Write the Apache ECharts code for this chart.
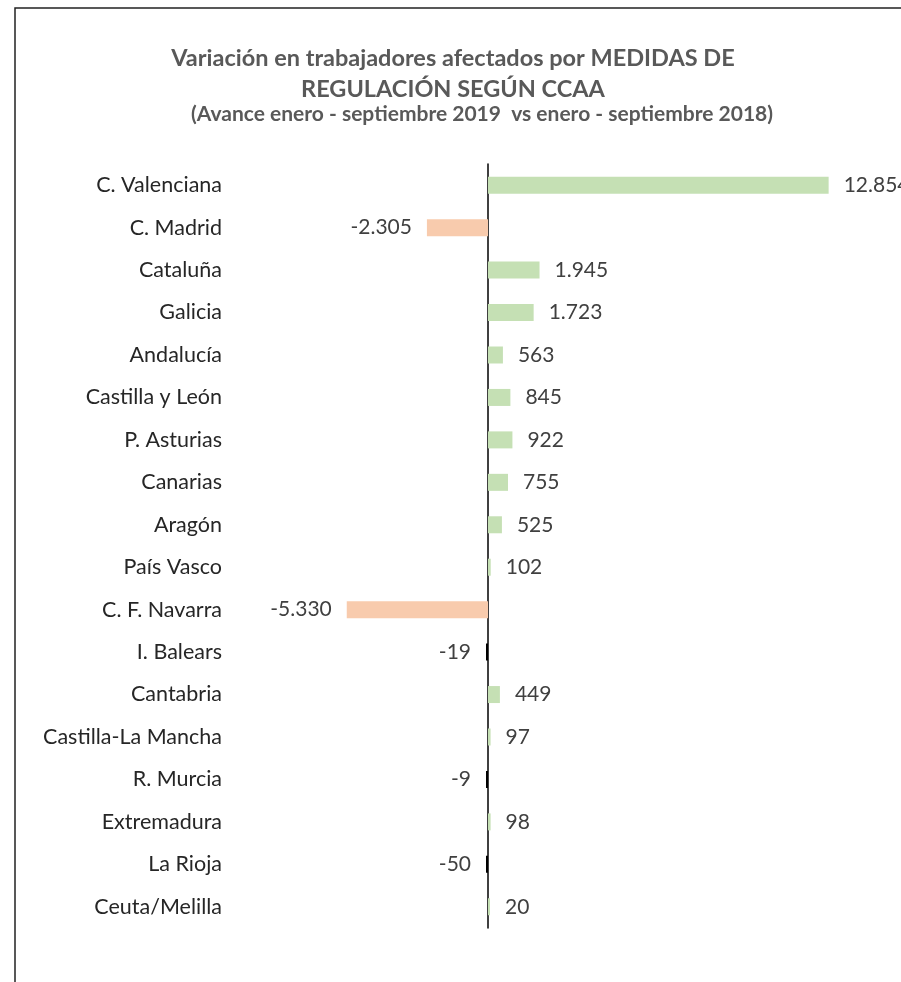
<!DOCTYPE html>
<html>
<head>
<meta charset="utf-8">
<style>
  html, body { margin: 0; padding: 0; background: #fff; }
  #chart { width: 901px; height: 982px; }
</style>
<script src="https://cdn.jsdelivr.net/npm/echarts@6/dist/echarts.min.js"></script>
</head>
<body>
<div id="chart"></div>
<script>
const regions = [
  'C. Valenciana', 'C. Madrid', 'Cataluña', 'Galicia', 'Andalucía',
  'Castilla y León', 'P. Asturias', 'Canarias', 'Aragón', 'País Vasco',
  'C. F. Navarra', 'I. Balears', 'Cantabria', 'Castilla-La Mancha',
  'R. Murcia', 'Extremadura', 'La Rioja', 'Ceuta/Melilla'
];
const variacion = [
  12854, -2305, 1945, 1723, 563,
  845, 922, 755, 525, 102,
  -5330, -19, 449, 97,
  -9, 98, -50, 20
];

const fmt = v => {
  const s = Math.abs(v).toString().replace(/\B(?=(\d{3})+(?!\d))/g, '.');
  return (v < 0 ? '-' : '') + s;
};

const chart = echarts.init(document.getElementById('chart'));

chart.setOption({
  animation: false,
  textStyle: { fontFamily: 'Lato' },
  graphic: [{
    type: 'rect',
    shape: { x: 15, y: 8, width: 920, height: 1000 },
    style: { fill: 'none', stroke: '#222', lineWidth: 1.5 }
  }],
  title: [{
    text: 'Variación en trabajadores afectados por MEDIDAS DE\nREGULACIÓN SEGÚN CCAA',
    left: 448, top: 38, textAlign: 'center',
    textStyle: { fontSize: 23.5, fontWeight: 'bold', color: '#595959', lineHeight: 31 }
  }, {
    text: '(Avance enero - septiembre 2019  vs enero - septiembre 2018)',
    left: 477, top: 99, textAlign: 'center',
    textStyle: { fontSize: 21, fontWeight: 'bold', color: '#595959' }
  }],
  grid: {
    left: 329, width: 530, top: 164, height: 764,
    containLabel: false, outerBoundsMode: 'none'
  },
  xAxis: {
    type: 'value', min: -6000, max: 14000,
    show: false
  },
  yAxis: {
    type: 'category', data: regions, inverse: true,
    axisLine: { onZero: true, lineStyle: { color: '#000', width: 1.5 } },
    axisTick: { show: false },
    axisLabel: { margin: 107, fontSize: 21.5, color: '#262626' }
  },
  series: [{
    type: 'bar',
    data: variacion.map(v => v < 0
      ? { value: v, label: { position: 'left' } }
      : v),
    barWidth: 17,
    barMinHeight: 2,
    itemStyle: {
      color: p => p.value >= 0 ? '#c5e0b4' : (p.value > -100 ? '#000' : '#f8cbad')
    },
    label: {
      show: true,
      position: 'right',
      distance: 15,
      fontSize: 21,
      color: '#404040',
      formatter: p => fmt(p.value)
    }
  }]
});
</script>
</body>
</html>
